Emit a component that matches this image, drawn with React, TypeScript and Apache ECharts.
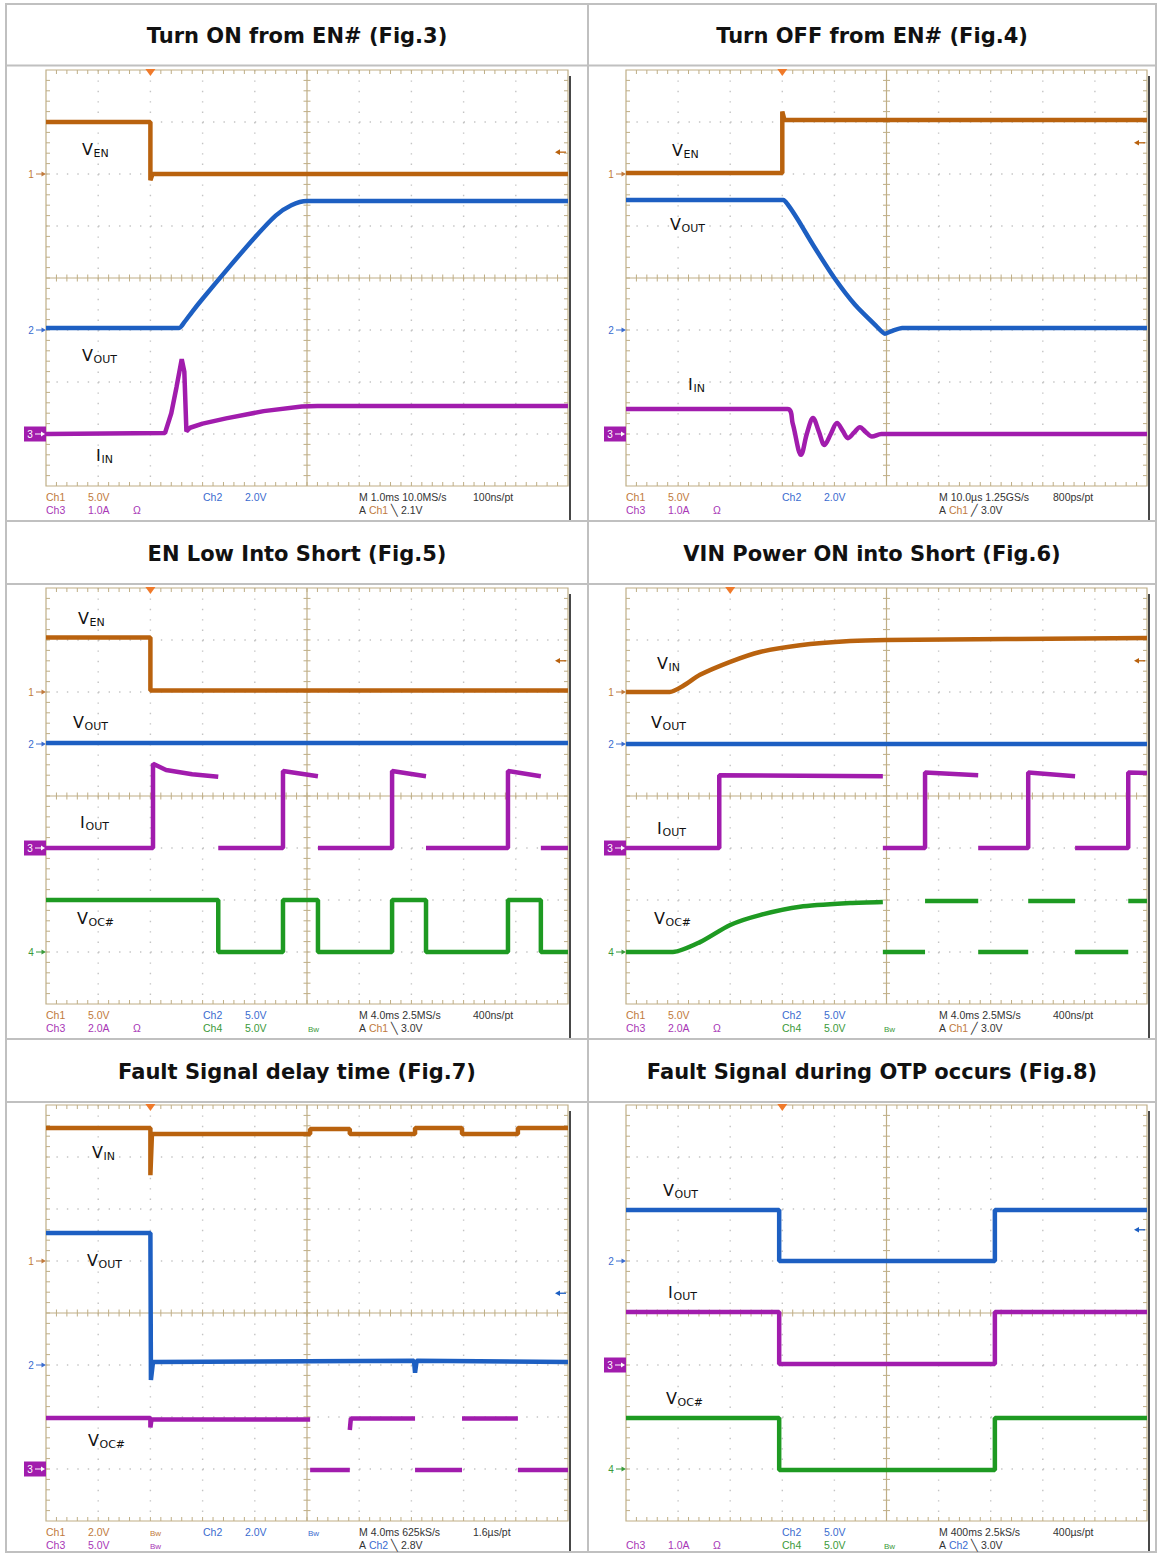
import React, { useEffect, useRef } from "react";
import * as echarts from "echarts";

// ---------- colours ----------
const C_EN = "#b9620e";
const C_OUT = "#1d5fc2";
const C_I = "#a11cad";
const C_OC = "#1e9a22";
const T_O = "#c07a3c";
const T_B = "#3a6ccf";
const T_P = "#a836b6";
const T_G = "#3a9a3a";
const T_K = "#333333";

// ---------- data (x in divisions 0..10, y in divisions 0..8) ----------
// Fig.3 Turn ON from EN#
const f3Ven = [[0, 7.0], [2.0, 7.0], [2.0, 5.88], [2.04, 6.0], [10, 6.0]];
const f3Vout = [[0, 3.04], [2.55, 3.04], [2.65, 3.15], [2.8, 3.35], [3.0, 3.6], [3.5, 4.2], [4.0, 4.78], [4.4, 5.2], [4.7, 5.4], [5.0, 5.48], [10, 5.48]];
const f3Iin = [[0, 1.0], [2.28, 1.02], [2.4, 1.4], [2.5, 1.9], [2.6, 2.44], [2.65, 2.2], [2.69, 1.05], [2.76, 1.12], [3.0, 1.2], [3.45, 1.3], [4.17, 1.44], [4.9, 1.53], [5.2, 1.54], [10, 1.54]];
// Fig.4 Turn OFF from EN#
const f4Ven = [[0, 6.02], [3.0, 6.02], [3.0, 7.2], [3.04, 7.04], [10, 7.04]];
const f4Vout = [[0, 5.5], [3.02, 5.5], [3.1, 5.42], [3.3, 5.12], [3.6, 4.62], [4.0, 4.0], [4.4, 3.48], [4.8, 3.08], [4.97, 2.93], [5.1, 2.98], [5.3, 3.04], [10, 3.04]];
const f4Iin = [[0, 1.48], [3.1, 1.48], [3.2, 1.2], [3.36, 0.6], [3.47, 1.0], [3.59, 1.31], [3.7, 1.05], [3.81, 0.79], [3.93, 1.0], [4.05, 1.21], [4.16, 1.06], [4.26, 0.92], [4.38, 1.03], [4.49, 1.13], [4.6, 1.04], [4.72, 0.95], [4.9, 1.0], [10, 1.0]];
// Fig.5 EN Low Into Short
const f5Ven = [[0, 7.05], [2.0, 7.05], [2.0, 6.03], [10, 6.03]];
const f5Vout = [[0, 5.02], [10, 5.02]];
const f5Iout = [[0, 3.0], [2.05, 3.0], [2.05, 4.62], [2.3, 4.5], [2.8, 4.42], [3.3, 4.37], null, [3.3, 3.0], [4.54, 3.0], [4.54, 4.48], [5.21, 4.38], null, [5.21, 3.0], [6.63, 3.0], [6.63, 4.48], [7.28, 4.38], null, [7.28, 3.0], [8.85, 3.0], [8.85, 4.48], [9.48, 4.38], null, [9.48, 3.0], [10, 3.0]];
const f5Voc = [[0, 2.0], [3.3, 2.0], [3.3, 1.0], [4.54, 1.0], [4.54, 2.0], [5.21, 2.0], [5.21, 1.0], [6.63, 1.0], [6.63, 2.0], [7.28, 2.0], [7.28, 1.0], [8.85, 1.0], [8.85, 2.0], [9.48, 2.0], [9.48, 1.0], [10, 1.0]];
// Fig.6 VIN Power ON into Short
const f6Vin = [[0, 6.0], [0.84, 6.0], [1.1, 6.12], [1.42, 6.33], [2.0, 6.58], [2.57, 6.77], [3.34, 6.9], [4.3, 6.98], [5.0, 7.0], [10, 7.04]];
const f6Vout = [[0, 5.0], [10, 5.0]];
const f6Iout = [[0, 3.0], [1.79, 3.0], [1.79, 4.4], [4.93, 4.38], null, [4.93, 3.0], [5.74, 3.0], [5.74, 4.45], [6.76, 4.4], null, [6.76, 3.0], [7.72, 3.0], [7.72, 4.45], [8.62, 4.38], null, [8.62, 3.0], [9.64, 3.0], [9.64, 4.45], [10, 4.44]];
const f6Voc = [[0, 1.0], [0.9, 1.0], [1.42, 1.19], [2.0, 1.52], [2.57, 1.71], [3.34, 1.87], [4.3, 1.94], [4.93, 1.96], null, [4.93, 1.0], [5.74, 1.0], null, [5.74, 1.98], [6.76, 1.98], null, [6.76, 1.0], [7.72, 1.0], null, [7.72, 1.98], [8.62, 1.98], null, [8.62, 1.0], [9.64, 1.0], null, [9.64, 1.98], [10, 1.98]];
// Fig.7 Fault Signal delay time
const f7Vin = [[0, 7.56], [2.0, 7.56], [2.0, 6.65], [2.03, 7.44], [5.06, 7.44], [5.06, 7.54], [5.82, 7.54], [5.82, 7.44], [7.07, 7.44], [7.07, 7.56], [7.97, 7.56], [7.97, 7.44], [9.04, 7.44], [9.04, 7.56], [10, 7.56]];
const f7Vout = [[0, 5.54], [2.0, 5.54], [2.01, 2.71], [2.05, 3.06], [7.05, 3.08], [7.07, 2.85], [7.1, 3.08], [10, 3.06]];
const f7Voc = [[0, 1.98], [2.0, 1.98], [2.0, 1.8], [2.02, 1.95], [5.06, 1.95], null, [5.06, 0.98], [5.82, 0.98], null, [5.82, 1.75], [5.84, 1.97], [7.07, 1.97], null, [7.07, 0.98], [7.97, 0.98], null, [7.97, 1.97], [9.04, 1.97], null, [9.04, 0.98], [10, 0.98]];
// Fig.8 Fault Signal during OTP occurs
const f8Vout = [[0, 5.98], [2.94, 5.98], [2.94, 5.0], [7.08, 5.0], [7.08, 5.98], [10, 5.98]];
const f8Iout = [[0, 4.02], [2.94, 4.02], [2.94, 3.02], [7.08, 3.02], [7.08, 4.02], [10, 4.02]];
const f8Voc = [[0, 1.98], [2.94, 1.98], [2.94, 0.98], [7.08, 0.98], [7.08, 1.98], [10, 1.98]];

const titles = [
  "Turn ON from EN# (Fig.3)",
  "Turn OFF from EN# (Fig.4)",
  "EN Low Into Short (Fig.5)",
  "VIN Power ON into Short (Fig.6)",
  "Fault Signal delay time (Fig.7)",
  "Fault Signal during OTP occurs (Fig.8)",
];

// ---------- layout ----------
const W = 1158;
const H = 1554;
const COLS = [6, 588, 1156];
const ROW_LINES = [4, 65.5, 521, 584, 1039, 1102, 1552];

type Panel = any;

const panels: Panel[] = [
  {
    left: 46, top: 70, width: 522, height: 416, trig: 2.0, arrow: { lv: 6.42, c: C_EN },
    traces: [[f3Ven, C_EN], [f3Vout, C_OUT, 0.25], [f3Iin, C_I]],
    chans: [["1", 6, T_O], ["2", 3, T_B], ["3", 1, C_I, true]],
    labels: [["V", "EN", 82, 149], ["V", "OUT", 82, 355], ["I", "IN", 96, 455]],
    txt: [
      [0, 0, "Ch1", T_O], [0, 42, "5.0V", T_O], [0, 157, "Ch2", T_B], [0, 199, "2.0V", T_B], [0, 313, "M 1.0ms 10.0MS/s", T_K], [0, 427, "100ns/pt", T_K],
      [1, 0, "Ch3", T_P], [1, 42, "1.0A", T_P], [1, 87, "Ω", T_P], [1, 313, "A {c|Ch1} ╲ 2.1V", T_K, T_O],
    ],
  },
  {
    left: 626, top: 70, width: 521, height: 416, trig: 3.0, arrow: { lv: 6.6, c: C_EN },
    traces: [[f4Ven, C_EN], [f4Vout, C_OUT, 0.2], [f4Iin, C_I, 0.35]],
    chans: [["1", 6, T_O], ["2", 3, T_B], ["3", 1, C_I, true]],
    labels: [["V", "EN", 672, 150], ["V", "OUT", 670, 224], ["I", "IN", 688, 384]],
    txt: [
      [0, 0, "Ch1", T_O], [0, 42, "5.0V", T_O], [0, 156, "Ch2", T_B], [0, 198, "2.0V", T_B], [0, 313, "M 10.0µs 1.25GS/s", T_K], [0, 427, "800ps/pt", T_K],
      [1, 0, "Ch3", T_P], [1, 42, "1.0A", T_P], [1, 87, "Ω", T_P], [1, 313, "A {c|Ch1} ╱ 3.0V", T_K, T_O],
    ],
  },
  {
    left: 46, top: 588, width: 522, height: 416, trig: 2.0, arrow: { lv: 6.6, c: C_EN },
    traces: [[f5Ven, C_EN], [f5Vout, C_OUT], [f5Iout, C_I], [f5Voc, C_OC]],
    chans: [["1", 6, T_O], ["2", 5, T_B], ["3", 3, C_I, true], ["4", 1, T_G]],
    labels: [["V", "EN", 78, 618], ["V", "OUT", 73, 722], ["I", "OUT", 80, 822], ["V", "OC#", 77, 918]],
    txt: [
      [0, 0, "Ch1", T_O], [0, 42, "5.0V", T_O], [0, 157, "Ch2", T_B], [0, 199, "5.0V", T_B], [0, 313, "M 4.0ms 2.5MS/s", T_K], [0, 427, "400ns/pt", T_K],
      [1, 0, "Ch3", T_P], [1, 42, "2.0A", T_P], [1, 87, "Ω", T_P], [1, 157, "Ch4", T_G], [1, 199, "5.0V", T_G], [1, 262, "Bw", T_G, null, 8], [1, 313, "A {c|Ch1} ╲ 3.0V", T_K, T_O],
    ],
  },
  {
    left: 626, top: 588, width: 521, height: 416, trig: 2.0, arrow: { lv: 6.6, c: C_EN },
    traces: [[f6Vin, C_EN, 0.25], [f6Vout, C_OUT], [f6Iout, C_I], [f6Voc, C_OC, 0.25]],
    chans: [["1", 6, T_O], ["2", 5, T_B], ["3", 3, C_I, true], ["4", 1, T_G]],
    labels: [["V", "IN", 657, 663], ["V", "OUT", 651, 722], ["I", "OUT", 657, 828], ["V", "OC#", 654, 918]],
    txt: [
      [0, 0, "Ch1", T_O], [0, 42, "5.0V", T_O], [0, 156, "Ch2", T_B], [0, 198, "5.0V", T_B], [0, 313, "M 4.0ms 2.5MS/s", T_K], [0, 427, "400ns/pt", T_K],
      [1, 0, "Ch3", T_P], [1, 42, "2.0A", T_P], [1, 87, "Ω", T_P], [1, 156, "Ch4", T_G], [1, 198, "5.0V", T_G], [1, 258, "Bw", T_G, null, 8], [1, 313, "A {c|Ch1} ╱ 3.0V", T_K, T_O],
    ],
  },
  {
    left: 46, top: 1105, width: 522, height: 416, trig: 2.0, arrow: { lv: 4.38, c: C_OUT },
    traces: [[f7Vin, C_EN], [f7Vout, C_OUT], [f7Voc, C_I]],
    chans: [["1", 5, T_O], ["2", 3, T_B], ["3", 1, C_I, true]],
    labels: [["V", "IN", 92, 1152], ["V", "OUT", 87, 1260], ["V", "OC#", 88, 1440]],
    txt: [
      [0, 0, "Ch1", T_O], [0, 42, "2.0V", T_O], [0, 104, "Bw", T_O, null, 8], [0, 157, "Ch2", T_B], [0, 199, "2.0V", T_B], [0, 262, "Bw", T_B, null, 8], [0, 313, "M 4.0ms 625kS/s", T_K], [0, 427, "1.6µs/pt", T_K],
      [1, 0, "Ch3", T_P], [1, 42, "5.0V", T_P], [1, 104, "Bw", T_P, null, 8], [1, 313, "A {c|Ch2} ╲ 2.8V", T_K, T_B],
    ],
  },
  {
    left: 626, top: 1105, width: 521, height: 416, trig: 3.0, arrow: { lv: 5.6, c: C_OUT },
    traces: [[f8Vout, C_OUT], [f8Iout, C_I], [f8Voc, C_OC]],
    chans: [["2", 5, T_B], ["3", 3, C_I, true], ["4", 1, T_G]],
    labels: [["V", "OUT", 663, 1190], ["I", "OUT", 668, 1292], ["V", "OC#", 666, 1398]],
    txt: [
      [0, 156, "Ch2", T_B], [0, 198, "5.0V", T_B], [0, 313, "M 400ms 2.5kS/s", T_K], [0, 427, "400µs/pt", T_K],
      [1, 0, "Ch3", T_P], [1, 42, "1.0A", T_P], [1, 87, "Ω", T_P], [1, 156, "Ch4", T_G], [1, 198, "5.0V", T_G], [1, 258, "Bw", T_G, null, 8], [1, 313, "A {c|Ch2} ╲ 3.0V", T_K, T_B],
    ],
  },
];

const SCOPE_FONT = '"Liberation Sans", Arial, sans-serif';
const LABEL_FONT = '"DejaVu Sans", sans-serif';

function txt(x: number, y: number, text: string, fill: string, font: string, align = "left", valign = "middle", extra: any = {}) {
  return {
    type: "text",
    silent: true,
    z: 20,
    style: {
      x, y, text, fill, font,
      align, verticalAlign: valign, textAlign: align, textVerticalAlign: valign,
      ...extra,
    },
  };
}

function graticule(params: any, api: any) {
  const a = api.coord([0, 0]);
  const b = api.coord([10, 8]);
  const x0 = a[0], yb = a[1], x1 = b[0], yt = b[1];
  const dx = (x1 - x0) / 10;
  const dy = (yb - yt) / 8;
  const ch: any[] = [];
  const dotC = "#c4c4c4";
  const axC = "#bfae86";
  for (let i = 1; i < 10; i++) {
    if (i === 5) continue;
    const x = x0 + i * dx;
    ch.push({ type: "line", shape: { x1: x, y1: yt, x2: x, y2: yb }, style: { stroke: dotC, lineWidth: 1.4, lineDash: [1.4, dy / 5 - 1.4] } });
  }
  for (let j = 1; j < 8; j++) {
    if (j === 4) continue;
    const y = yb - j * dy;
    ch.push({ type: "line", shape: { x1: x0, y1: y, x2: x1, y2: y }, style: { stroke: dotC, lineWidth: 1.4, lineDash: [1.4, dx / 5 - 1.4] } });
  }
  const cx = x0 + 5 * dx;
  const cy = yb - 4 * dy;
  ch.push({ type: "rect", shape: { x: x0, y: yt, width: x1 - x0, height: yb - yt }, style: { fill: "none", stroke: axC, lineWidth: 1.2 } });
  ch.push({ type: "line", shape: { x1: cx, y1: yt, x2: cx, y2: yb }, style: { stroke: axC, lineWidth: 1.2 } });
  ch.push({ type: "line", shape: { x1: x0, y1: cy, x2: x1, y2: cy }, style: { stroke: axC, lineWidth: 1.2 } });
  const tk = { stroke: axC, lineWidth: 1 };
  for (let k = 1; k < 50; k++) {
    const x = x0 + (k * dx) / 5;
    ch.push({ type: "line", shape: { x1: x, y1: yt, x2: x, y2: yt + 4 }, style: tk });
    ch.push({ type: "line", shape: { x1: x, y1: yb, x2: x, y2: yb - 4 }, style: tk });
    ch.push({ type: "line", shape: { x1: x, y1: cy - 3.5, x2: x, y2: cy + 3.5 }, style: tk });
  }
  for (let k = 1; k < 40; k++) {
    const y = yb - (k * dy) / 5;
    ch.push({ type: "line", shape: { x1: x0, y1: y, x2: x0 + 4, y2: y }, style: tk });
    ch.push({ type: "line", shape: { x1: x1, y1: y, x2: x1 - 4, y2: y }, style: tk });
    ch.push({ type: "line", shape: { x1: cx - 3.5, y1: y, x2: cx + 3.5, y2: y }, style: tk });
  }
  return { type: "group", children: ch };
}

function buildOption() {
  const grid: any[] = [];
  const xAxis: any[] = [];
  const yAxis: any[] = [];
  const series: any[] = [];
  const graphic: any[] = [];

  // table
  graphic.push({ type: "rect", silent: true, z: 1, shape: { x: COLS[0], y: ROW_LINES[0], width: COLS[2] - COLS[0], height: ROW_LINES[6] - ROW_LINES[0] }, style: { fill: "none", stroke: "#c0c0c0", lineWidth: 2 } });
  for (let r = 1; r < 6; r++) {
    graphic.push({ type: "line", silent: true, z: 1, shape: { x1: COLS[0], y1: ROW_LINES[r], x2: COLS[2], y2: ROW_LINES[r] }, style: { stroke: "#c0c0c0", lineWidth: 2 } });
  }
  graphic.push({ type: "line", silent: true, z: 1, shape: { x1: COLS[1], y1: ROW_LINES[0], x2: COLS[1], y2: ROW_LINES[6] }, style: { stroke: "#c0c0c0", lineWidth: 2 } });

  panels.forEach((p, i) => {
    const col = i % 2;
    const row = Math.floor(i / 2);
    const cellCx = (COLS[col] + COLS[col + 1]) / 2;
    const titleCy = (ROW_LINES[row * 2] + ROW_LINES[row * 2 + 1]) / 2 + 1;
    graphic.push(txt(cellCx, titleCy, titles[i], "#111", 'bold 21px "DejaVu Sans", sans-serif', "center", "middle"));

    grid.push({ left: p.left, top: p.top, width: p.width, height: p.height, containLabel: false, show: false });
    xAxis.push({ type: "value", gridIndex: i, min: 0, max: 10, show: false });
    yAxis.push({ type: "value", gridIndex: i, min: 0, max: 8, show: false });

    series.push({ type: "custom", xAxisIndex: i, yAxisIndex: i, data: [[0, 0]], renderItem: graticule, silent: true, clip: false, z: 1 });

    p.traces.forEach((t: any) => {
      series.push({
        type: "line", xAxisIndex: i, yAxisIndex: i, silent: true, z: 5,
        data: t[0].map((pt: any) => (pt === null ? ["-", "-"] : pt)),
        showSymbol: false, symbol: "none", connectNulls: false,
        smooth: t[2] || false,
        lineStyle: { color: t[1], width: 4.5 },
      });
    });

    const dy = p.height / 8;
    const dxp = p.width / 10;
    const yOf = (lv: number) => p.top + p.height - lv * dy;
    const gl = p.left;
    const gr = p.left + p.width;
    const gb = p.top + p.height;

    // dark right edge of scope screenshot
    graphic.push({ type: "line", silent: true, z: 3, shape: { x1: gr + 2, y1: p.top + 6, x2: gr + 2, y2: ROW_LINES[row * 2 + 2] - 1 }, style: { stroke: "#1a1a1a", lineWidth: 1.6 } });

    // trigger marker
    const tx = gl + p.trig * dxp;
    graphic.push({ type: "polygon", silent: true, z: 10, shape: { points: [[tx - 5, p.top - 1], [tx + 5, p.top - 1], [tx, p.top + 6]] }, style: { fill: "#f07a2a" } });

    // trigger level arrow at right
    const ay = yOf(p.arrow.lv);
    graphic.push({ type: "line", silent: true, z: 10, shape: { x1: gr - 11, y1: ay, x2: gr - 2, y2: ay }, style: { stroke: p.arrow.c, lineWidth: 1.3 } });
    graphic.push({ type: "polygon", silent: true, z: 10, shape: { points: [[gr - 13, ay], [gr - 8, ay - 2.8], [gr - 8, ay + 2.8]] }, style: { fill: p.arrow.c } });

    // channel ground markers
    p.chans.forEach((c: any) => {
      const y = yOf(c[1]);
      if (c[3]) {
        graphic.push({ type: "rect", silent: true, z: 10, shape: { x: gl - 22, y: y - 7.5, width: 22, height: 15 }, style: { fill: c[2] } });
        graphic.push(txt(gl - 16, y + 0.5, c[0], "#ffffff", `10px ${SCOPE_FONT}`, "center", "middle"));
        graphic.push({ type: "line", silent: true, z: 11, shape: { x1: gl - 11, y1: y, x2: gl - 3, y2: y }, style: { stroke: "#ffffff", lineWidth: 1 } });
        graphic.push({ type: "polygon", silent: true, z: 11, shape: { points: [[gl - 1, y], [gl - 5, y - 2.5], [gl - 5, y + 2.5]] }, style: { fill: "#ffffff" } });
      } else {
        graphic.push(txt(gl - 15, y + 0.5, c[0], c[2], `10px ${SCOPE_FONT}`, "center", "middle"));
        graphic.push({ type: "line", silent: true, z: 10, shape: { x1: gl - 10, y1: y, x2: gl - 3, y2: y }, style: { stroke: c[2], lineWidth: 1 } });
        graphic.push({ type: "polygon", silent: true, z: 10, shape: { points: [[gl, y], [gl - 4.5, y - 2.5], [gl - 4.5, y + 2.5]] }, style: { fill: c[2] } });
      }
    });

    // signal labels
    p.labels.forEach((l: any) => {
      const [m, s, x, y] = l;
      const mw = m === "V" ? 11.5 : 5.5;
      graphic.push(txt(x, y, m, "#111", `16px ${LABEL_FONT}`, "left", "middle"));
      graphic.push(txt(x + mw, y + 4.5, s, "#111", `11px ${LABEL_FONT}`, "left", "middle"));
    });

    // scope settings text
    p.txt.forEach((t: any) => {
      const [r, dx, text, color, c2, size] = t;
      const y = gb + 11 + r * 13;
      const fs = size || 10.5;
      const extra: any = {};
      if (c2) extra.rich = { c: { fill: c2, color: c2, font: `${fs}px ${SCOPE_FONT}` } };
      graphic.push(txt(gl + dx, y + (size ? 1 : 0), text, color, `${fs}px ${SCOPE_FONT}`, "left", "middle", extra));
    });
  });

  return {
    animation: false,
    backgroundColor: "#ffffff",
    grid, xAxis, yAxis, series, graphic,
  };
}

export default function App() {
  const ref = useRef<HTMLDivElement>(null);
  useEffect(() => {
    if (!ref.current) return;
    const chart = echarts.init(ref.current, undefined, { renderer: "svg", width: W, height: H });
    chart.setOption(buildOption() as any);
    return () => chart.dispose();
  }, []);
  return <div ref={ref} style={{ position: "absolute", left: 0, top: 0, width: W, height: H, background: "#fff" }} />;
}
